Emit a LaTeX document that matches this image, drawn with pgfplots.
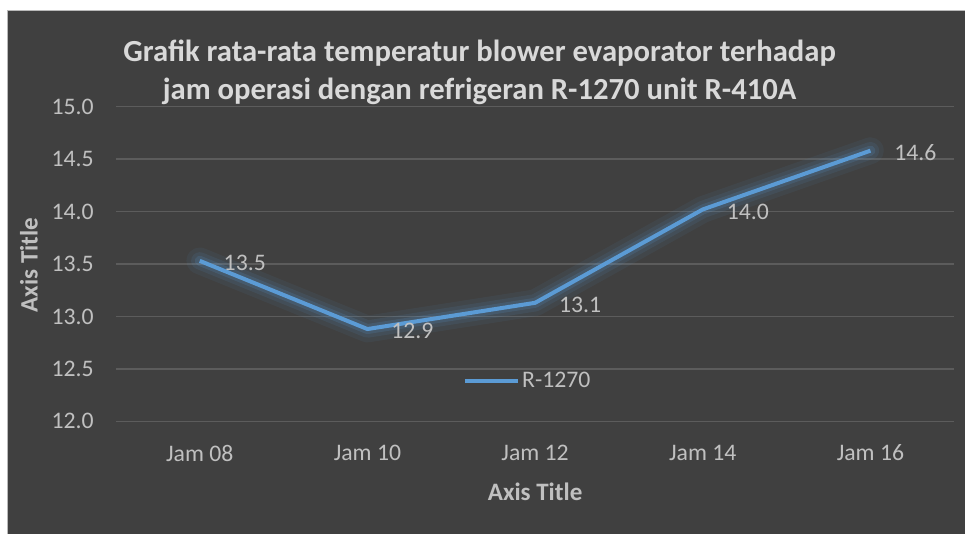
\documentclass[border=0pt]{standalone}
\usepackage{fontspec}
\setmainfont{Carlito}
\usepackage{pgfplots}
\pgfplotsset{compat=1.18}
\definecolor{bg}{HTML}{404040}
\definecolor{gridc}{HTML}{5C5C5C}
\definecolor{tickc}{HTML}{C0C0C0}
\definecolor{ttl}{HTML}{D9D9D9}
\definecolor{linec}{HTML}{5B9BD5}
\pgfplotstableread{
x y
0 13.53
1 12.88
2 13.13
3 14.02
4 14.58
}\datatable
\begin{document}
\begin{tikzpicture}
\fill[white] (-87pt,-84.225pt) rectangle (637.5pt,316.275pt);
\fill[bg] (-81.75pt,-84.225pt) rectangle (637.5pt,308.775pt);
\draw[gray!55, line width=1.1pt] (-81.2pt,-84.225pt) -- (-81.2pt,308.2pt) -- (637.5pt,308.2pt);
\begin{axis}[
  at={(0pt,0pt)}, anchor=south west,
  scale only axis, width=629.25pt, height=236.25pt,
  xmin=-0.5, xmax=4.5, ymin=12, ymax=15,
  xtick={0,1,2,3,4},
  xticklabels={Jam 08, Jam 10, Jam 12, Jam 14, Jam 16},
  ytick={12,12.5,13,13.5,14,14.5,15},
  yticklabel style={/pgf/number format/fixed, /pgf/number format/fixed zerofill, /pgf/number format/precision=1},
  /pgf/number format/assume math mode=true,
  ymajorgrids, grid style={gridc, line width=0.9pt},
  axis line style={draw=none}, major tick length=0pt,
  tick label style={font=\fontsize{17.8}{21}\selectfont, text=tickc, inner sep=0pt},
  yticklabel style={xshift=-16.5pt},
  xticklabel style={yshift=-17.5pt},
  xlabel={Axis Title}, ylabel={Axis Title},
  label style={font=\bfseries\fontsize{18.8}{22}\selectfont, text=tickc},
  xlabel style={at={(axis description cs:0.5,-0.223)}, anchor=center},
  ylabel style={at={(axis description cs:-0.1037,0.497)}, anchor=center},
  legend style={at={(axis description cs:0.4136,0.129)}, anchor=west, draw=none, fill=none,
    font=\fontsize{17.8}{21}\selectfont, text=tickc, inner sep=0pt,
    nodes={inner sep=1.5pt}},
  legend image code/.code={\draw[linec, line width=3pt] (0pt,0pt) -- (40pt,0pt);},
  clip=false,
]
\addplot[linec, opacity=0.07, line width=20pt, line join=round, line cap=round, forget plot] table[x=x,y=y]{\datatable};
\addplot[linec, opacity=0.10, line width=13pt, line join=round, line cap=round, forget plot] table[x=x,y=y]{\datatable};
\addplot[linec, opacity=0.16, line width=7.5pt, line join=round, line cap=round, forget plot] table[x=x,y=y]{\datatable};
\addplot[linec, line width=3pt, line join=round, mark=none,
  nodes near coords={\pgfmathprintnumber[fixed,fixed zerofill,precision=1,assume math mode=true]{\pgfplotspointmeta}},
  nodes near coords style={anchor=west, xshift=16.5pt, yshift=-1.5pt, inner sep=0pt,
    font=\fontsize{17.8}{21}\selectfont, text=tickc},
] table[x=x,y=y]{\datatable};
\addlegendentry{R-1270}
\end{axis}
\node[align=center, font=\bfseries\fontsize{23}{28.5}\selectfont, text=ttl] at (273pt,261.9pt)
  {Grafik rata-rata temperatur blower evaporator terhadap\\jam operasi dengan refrigeran R-1270 unit R-410A};
\end{tikzpicture}
\end{document}
